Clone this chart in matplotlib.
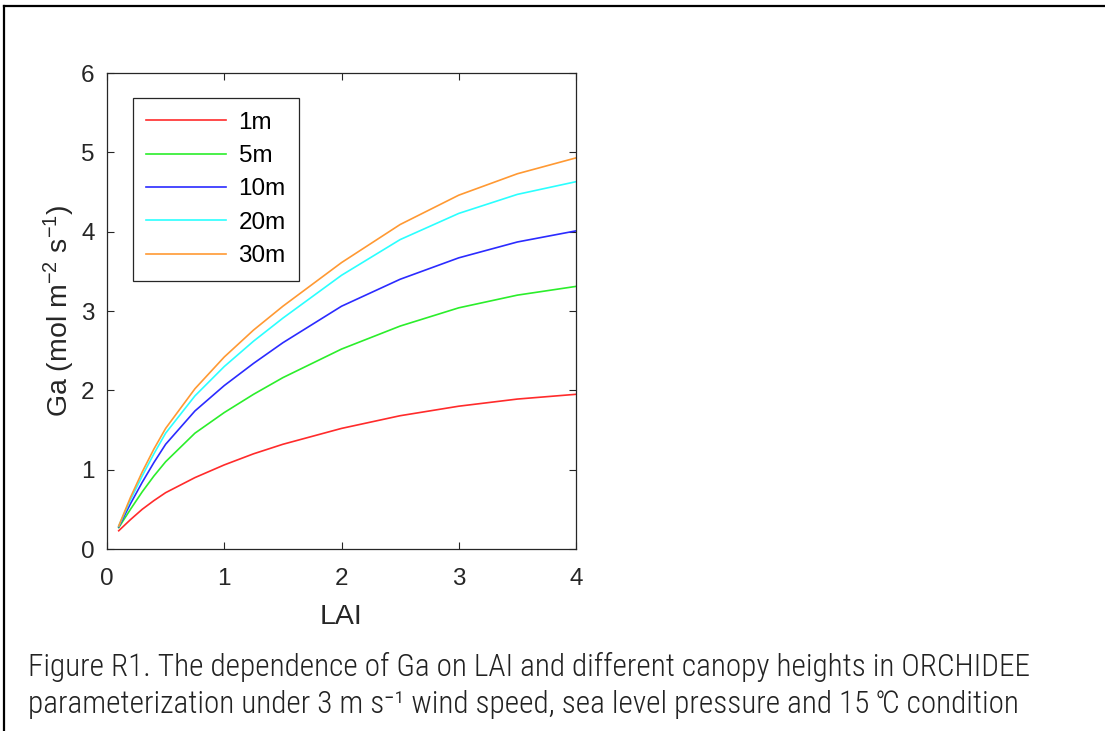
import matplotlib
matplotlib.use("Agg")
import matplotlib.pyplot as plt
from matplotlib.lines import Line2D

# data
lai = [0.1, 0.2, 0.3, 0.4, 0.5, 0.75, 1.0, 1.25, 1.5, 2.0, 2.5, 3.0, 3.5, 4.0]
ga_1m = [0.23, 0.37, 0.50, 0.61, 0.71, 0.90, 1.06, 1.20, 1.32, 1.52, 1.68, 1.80, 1.89, 1.95]
ga_5m = [0.27, 0.50, 0.72, 0.92, 1.10, 1.46, 1.72, 1.95, 2.16, 2.52, 2.81, 3.04, 3.20, 3.31]
ga_10m = [0.28, 0.57, 0.84, 1.09, 1.32, 1.74, 2.06, 2.34, 2.60, 3.06, 3.40, 3.67, 3.87, 4.01]
ga_20m = [0.29, 0.62, 0.92, 1.20, 1.46, 1.93, 2.30, 2.62, 2.91, 3.45, 3.90, 4.23, 4.47, 4.63]
ga_30m = [0.29, 0.65, 0.97, 1.26, 1.52, 2.02, 2.42, 2.76, 3.06, 3.61, 4.09, 4.46, 4.73, 4.93]
labels = ["1m", "5m", "10m", "20m", "30m"]
colors = ["#ff2b2b", "#2bee2b", "#2b2bff", "#2bffff", "#ff9933"]

x_ticks = [0, 1, 2, 3, 4]
y_ticks = [0, 1, 2, 3, 4, 5, 6]

caption1 = "Figure R1. The dependence of Ga on LAI and different canopy heights in ORCHIDEE"
caption2 = "parameterization under 3 m s\u207b\u00b9 wind speed, sea level pressure and 15 \u2103 condition"

plt.rcParams["font.family"] = "Liberation Sans"
plt.rcParams["mathtext.fontset"] = "custom"
plt.rcParams["mathtext.rm"] = "Liberation Sans"
plt.rcParams["mathtext.it"] = "Liberation Sans"
cap_font = ["Roboto Condensed", "DejaVu Sans"]
grey = "#262626"

fig = plt.figure(figsize=(11.05, 7.31), dpi=100)
ax = fig.add_axes([107 / 1105, 1 - 549 / 731, 469 / 1105, 476 / 731])

for ys, lab, c in zip([ga_1m, ga_5m, ga_10m, ga_20m, ga_30m], labels, colors):
    ax.plot(lai, ys, color=c, lw=1.2, label=lab)

ax.set_xlim(0, 4)
ax.set_ylim(0, 6)
ax.set_xticks(x_ticks)
ax.set_yticks(y_ticks)
ax.tick_params(direction="in", top=True, right=True, length=5, width=0.8,
               labelsize=17.5, colors=grey)
ax.tick_params(axis="x", pad=14)
ax.tick_params(axis="y", pad=9)
for s in ax.spines.values():
    s.set_color(grey)
    s.set_linewidth(0.9)

ax.set_xlabel("LAI", fontsize=20.5, color=grey, labelpad=10)
ax.set_ylabel("Ga (mol m$^{-2}$ s$^{-1}$)", fontsize=20.5, color=grey, labelpad=3)

leg = ax.legend(loc="upper left", bbox_to_anchor=(0.055, 0.947), fontsize=17.5,
                handlelength=3.3, handletextpad=0.5, labelspacing=0.47,
                borderpad=0.55, borderaxespad=0, fancybox=False, framealpha=1)
leg.get_frame().set_edgecolor(grey)
leg.get_frame().set_linewidth(0.9)

# frame around the figure panel
fig.add_artist(Line2D([4 / 1105, 1], [1 - 6 / 731, 1 - 6 / 731], color="black", lw=1.6,
                      transform=fig.transFigure))
fig.add_artist(Line2D([4 / 1105, 4 / 1105], [0, 1 - 6 / 731], color="black", lw=1.6,
                      transform=fig.transFigure))

# caption, size fitted so the second line ends where it does in the reference
t1 = fig.text(28 / 1105, 1 - 676 / 731, caption1, fontsize=20, family=cap_font,
              fontweight=300, color="#222222")
t2 = fig.text(28 / 1105, 1 - 713 / 731, caption2, fontsize=20, family=cap_font,
              fontweight=300, color="#222222")
r = fig.canvas.get_renderer()
w2 = t2.get_window_extent(r).width
size = 20 * 987 / w2
w1 = t1.get_window_extent(r).width * size / 20
if w1 > 1062:
    size = size * 1062 / w1
t1.set_fontsize(size)
t2.set_fontsize(size)

fig.savefig("out.png", dpi=100)
